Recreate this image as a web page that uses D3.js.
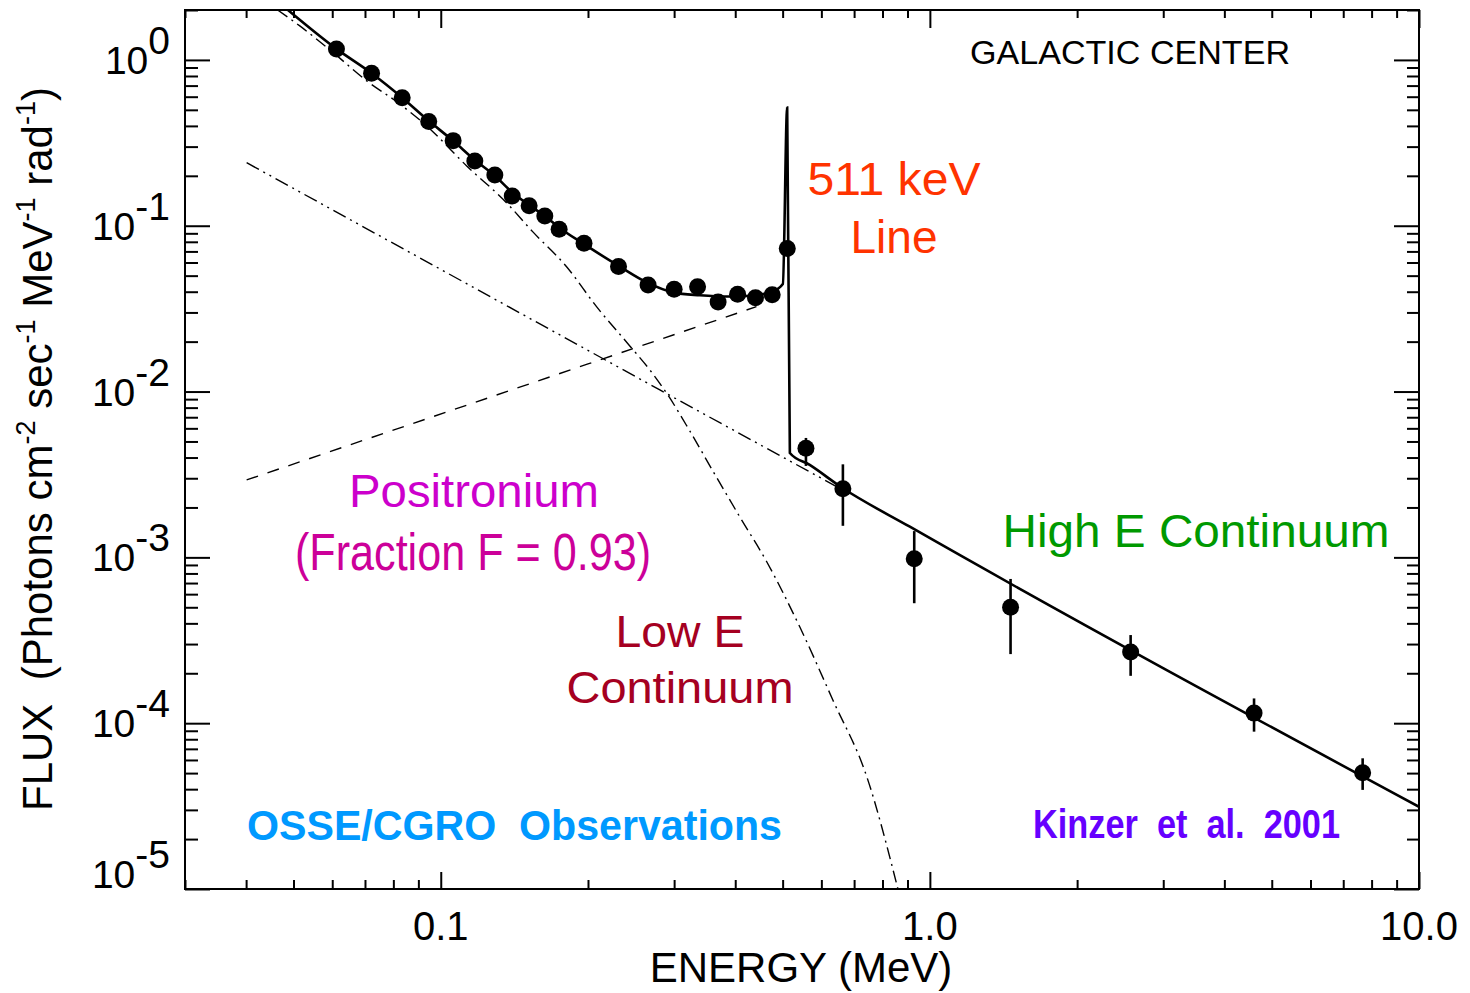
<!DOCTYPE html>
<html>
<meta charset="utf-8">
<style>
    body { margin: 0; background: #fff; }
    text { font-family: "Liberation Sans", Arial, Helvetica, sans-serif; }
</style>
<body>
<script src="https://d3js.org/d3.v7.min.js"></script>
<script>

    // OSSE data points (MeV, photons cm-2 s-1 MeV-1 rad-1)
    var energy = [0.0612, 0.0722, 0.0834, 0.0945, 0.106, 0.1174, 0.129, 0.140, 0.1516, 0.1632,
                  0.1746, 0.1963, 0.2309, 0.2654, 0.300, 0.335, 0.369, 0.4045, 0.440, 0.476,
                  0.511, 0.558, 0.664, 0.929, 1.462, 2.573, 4.60, 7.67];
    var flux = [1.165, 0.831, 0.592, 0.425, 0.326, 0.246, 0.202, 0.151, 0.132, 0.1146,
                0.0952, 0.0784, 0.0567, 0.0439, 0.0414, 0.0429, 0.0347, 0.0386, 0.0368, 0.0384,
                0.0728, 4.55e-3, 2.59e-3, 9.82e-4, 5.0e-4, 2.69e-4, 1.15e-4, 5.03e-5];
    var fluxLo = [null, null, null, null, null, null, null, null, null, null,
                  null, null, null, null, null, null, null, null, null, null,
                  null, 3.56e-3, 1.55e-3, 5.29e-4, 2.61e-4, 1.93e-4, 8.89e-5, 3.96e-5];
    var fluxHi = [null, null, null, null, null, null, null, null, null, null,
                  null, null, null, null, null, null, null, null, null, null,
                  null, 5.25e-3, 3.64e-3, 1.44e-3, 7.41e-4, 3.40e-4, 1.41e-4, 6.14e-5];

    // model components
    var totalE = [0.0487, 0.0612, 0.0722, 0.0834, 0.0945, 0.106, 0.1174, 0.129, 0.1403, 0.1514,
                  0.1632, 0.1751, 0.196, 0.2312, 0.2651, 0.2996, 0.3386, 0.3845, 0.4225, 0.4753,
                  0.5005, 0.5108, 0.5173, 0.568, 0.664, 0.910, 10];
    var totalF = [2.0, 1.165, 0.831, 0.592, 0.429, 0.325, 0.249, 0.200, 0.158, 0.1335,
                  0.1146, 0.0970, 0.0777, 0.0572, 0.0452, 0.0395, 0.0381, 0.0374, 0.0377, 0.0400,
                  0.0445, 0.5157, 4.26e-3, 3.61e-3, 2.61e-3, 1.53e-3, 3.13e-5];

    var lowE_E = [0.0464, 0.0515, 0.0607, 0.0706, 0.0824, 0.0936, 0.1130, 0.1364, 0.1543, 0.1810,
                  0.2084, 0.2435, 0.2676, 0.2912, 0.3229, 0.3600, 0.4088, 0.4642, 0.5422, 0.6333,
                  0.7433, 0.8603];
    var lowE_F = [2.0, 1.603, 1.087, 0.747, 0.543, 0.400, 0.2294, 0.1373, 0.0918, 0.0564,
                  0.0324, 0.01884, 0.01350, 9.54e-3, 5.79e-3, 3.32e-3, 1.752e-3, 9.38e-4, 3.80e-4, 1.38e-4,
                  4.74e-5, 1.0e-5];

    var posE = [0.0401, 0.2, 0.442];
    var posF = [2.93e-3, 0.01467, 0.0325];

    var highE_E = [0.0401, 0.2805, 0.70];
    var highE_F = [0.240, 0.01023, 2.34e-3];

    var xMajor = [0.1, 1, 10];
    var xLabels = ["0.1", "1.0", "10.0"];
    var yMajor = [1, 1e-1, 1e-2, 1e-3, 1e-4, 1e-5];
    var yExps = ["0", "-1", "-2", "-3", "-4", "-5"];

    var margin = {top: 10, right: 51, bottom: 104, left: 185},
        width = 1234,
        height = 879;

    var x = d3.scaleLog().domain([0.03, 10]).range([0, width]);
    var y = d3.scaleLog().domain([1e-5, 2]).range([height, 0]);

    var svg = d3.select("body")
        .append("svg")
        .attr("width", width + margin.left + margin.right)
        .attr("height", height + margin.top + margin.bottom);

    var g = svg.append("g")
        .attr("transform", "translate(" + margin.left + "," + margin.top + ")");

    g.append("clipPath").attr("id", "clip")
        .append("rect").attr("width", width).attr("height", height);

    var xMinor = x.ticks().filter(function(v) { return xMajor.indexOf(v) < 0; });
    var yMinor = y.ticks().filter(function(v) { return yMajor.indexOf(v) < 0; });

    function tickAxis(axis, vals, size) {
        return axis.tickValues(vals).tickSize(size).tickFormat("");
    }

    var axes = [
        [d3.axisTop(x), xMajor, 17, "translate(0," + height + ")"],
        [d3.axisTop(x), xMinor, 9, "translate(0," + height + ")"],
        [d3.axisBottom(x), xMajor, 18, null],
        [d3.axisBottom(x), xMinor, 8, null],
        [d3.axisRight(y), yMajor, 25, null],
        [d3.axisRight(y), yMinor, 13, null],
        [d3.axisLeft(y), yMajor, 25, "translate(" + width + ",0)"],
        [d3.axisLeft(y), yMinor, 12, "translate(" + width + ",0)"]
    ];
    axes.forEach(function(a) {
        var ax = g.append("g").attr("class", "axis");
        if (a[3]) ax.attr("transform", a[3]);
        ax.call(tickAxis(a[0], a[1], a[2]));
        ax.select(".domain").remove();
        ax.selectAll("line").attr("stroke", "#000").attr("stroke-width", 2);
    });

    g.append("rect")
        .attr("width", width)
        .attr("height", height)
        .attr("fill", "none")
        .attr("stroke", "#000")
        .attr("stroke-width", 2);

    // x tick labels
    g.selectAll(".xlab")
        .data(xMajor)
        .enter()
        .append("text")
        .attr("x", function(d) { return x(d); })
        .attr("y", height + 51)
        .attr("text-anchor", "middle")
        .style("font-size", "40px")
        .text(function(d, i) { return xLabels[i]; });

    // y tick labels
    var ylab = g.selectAll(".ylab")
        .data(yMajor)
        .enter()
        .append("text")
        .attr("x", -15)
        .attr("y", function(d, i) { return y(d) + (i === yMajor.length - 1 ? -1 : 14); })
        .attr("text-anchor", "end")
        .style("font-size", "39px");
    ylab.append("tspan").text("10");
    ylab.append("tspan").attr("dy", -20).text(function(d, i) { return yExps[i]; });

    // axis titles
    svg.append("text")
        .attr("x", 801)
        .attr("y", 982)
        .attr("text-anchor", "middle")
        .style("font-size", "42px")
        .text("ENERGY (MeV)");

    var yt = svg.append("text")
        .attr("transform", "translate(52,449) rotate(-90)")
        .attr("text-anchor", "middle")
        .style("font-size", "42px")
        .style("white-space", "pre");
    var ytParts = [["FLUX  (Photons cm", 0], ["-2", 1], [" sec", 0], ["-1", 1],
                   [" MeV", 0], ["-1", 1], [" rad", 0], ["-1", 1], [")", 0]];
    ytParts.forEach(function(p, i) {
        yt.append("tspan")
            .attr("dy", p[1] ? -17 : (i > 0 ? 17 : 0))
            .style("font-size", p[1] ? "27px" : "42px")
            .text(p[0]);
    });

    var plot = g.append("g").attr("clip-path", "url(#clip)");

    function pts(es, fs) {
        return es.map(function(e, i) { return [e, fs[i]]; });
    }
    var line = d3.line()
        .x(function(d) { return x(d[0]); })
        .y(function(d) { return y(d[1]); });

    plot.append("path")
        .datum(pts(highE_E, highE_F))
        .attr("d", line)
        .attr("fill", "none")
        .attr("stroke", "#000")
        .attr("stroke-width", 1.4)
        .attr("stroke-dasharray", "14,5,2,5,2,5");

    plot.append("path")
        .datum(pts(posE, posF))
        .attr("d", line)
        .attr("fill", "none")
        .attr("stroke", "#000")
        .attr("stroke-width", 1.4)
        .attr("stroke-dasharray", "12,10");

    plot.append("path")
        .datum(pts(lowE_E, lowE_F))
        .attr("d", line.curve(d3.curveMonotoneX))
        .attr("fill", "none")
        .attr("stroke", "#000")
        .attr("stroke-width", 1.4)
        .attr("stroke-dasharray", "12,5,2,5");

    plot.append("path")
        .datum(pts(totalE, totalF))
        .attr("d", line.curve(d3.curveMonotoneX))
        .attr("fill", "none")
        .attr("stroke", "#000")
        .attr("stroke-width", 2.6);

    // error bars
    plot.selectAll(".err")
        .data(energy.map(function(e, i) { return i; }).filter(function(i) { return fluxLo[i] !== null; }))
        .enter()
        .append("line")
        .attr("x1", function(i) { return x(energy[i]); })
        .attr("x2", function(i) { return x(energy[i]); })
        .attr("y1", function(i) { return y(fluxLo[i]); })
        .attr("y2", function(i) { return y(fluxHi[i]); })
        .attr("stroke", "#000")
        .attr("stroke-width", 2.6);

    plot.selectAll("circle")
        .data(energy)
        .enter()
        .append("circle")
        .attr("r", 8.5)
        .attr("cx", function(d) { return x(d); })
        .attr("cy", function(d, i) { return y(flux[i]); })
        .attr("fill", "#000");

    // annotations
    function note(txt, px, py, size, color, anchor, weight, len) {
        var t = svg.append("text")
            .attr("x", px)
            .attr("y", py)
            .attr("text-anchor", anchor)
            .attr("fill", color)
            .style("font-size", size + "px")
            .style("font-weight", weight || "normal")
            .style("white-space", "pre")
            .text(txt);
        if (len) t.attr("textLength", len).attr("lengthAdjust", "spacingAndGlyphs");
        return t;
    }

    note("GALACTIC CENTER", 970, 64, 33, "#000", "start", null, 320);
    note("511 keV", 894, 195, 46, "#ff3300", "middle", null, 173);
    note("Line", 894, 253, 46, "#ff3300", "middle");
    note("Positronium", 474, 507, 47, "#cc00cc", "middle", null, 250);
    note("(Fraction F = 0.93)", 473, 570, 52, "#cc0099", "middle", null, 356);
    note("Low E", 680, 647, 45, "#a50021", "middle", null, 129);
    note("Continuum", 680, 703, 45, "#a50021", "middle", null, 227);
    note("High E Continuum", 1196, 547, 47, "#009900", "middle", null, 387);
    note("OSSE/CGRO  Observations", 247, 840, 43, "#0099ff", "start", "bold", 535);
    note("Kinzer  et  al.  2001", 1033, 838, 40, "#6600ff", "start", "bold", 307);

</script>
</body>
</html>
